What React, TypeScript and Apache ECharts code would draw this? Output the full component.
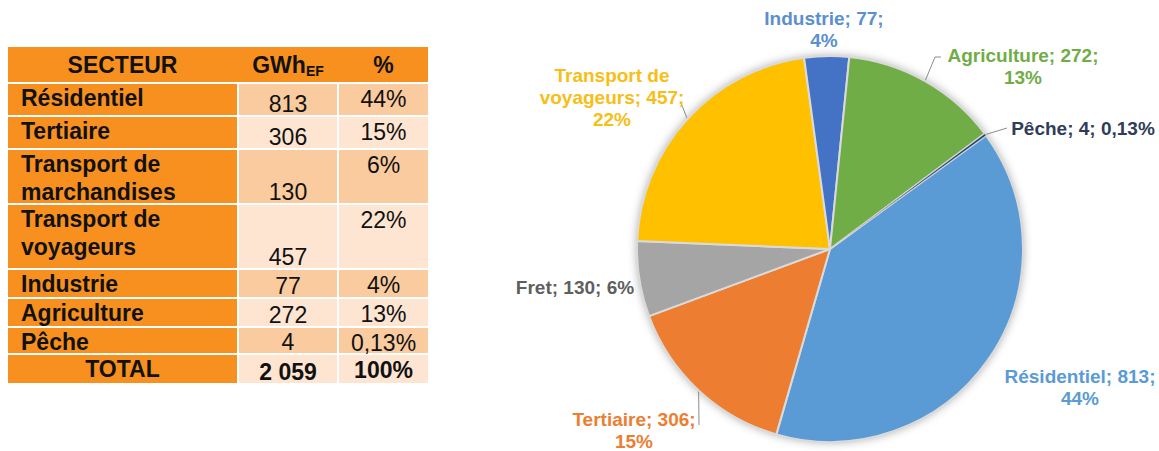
import React, { useEffect, useRef } from "react";
import * as echarts from "echarts";

// ---------- DATA ----------
const tableHeader = ["SECTEUR", "GWh", "%"];
const tableSectors = [
  "Résidentiel",
  "Tertiaire",
  "Transport de\nmarchandises",
  "Transport de\nvoyageurs",
  "Industrie",
  "Agriculture",
  "Pêche",
];
const tableGwh = [813, 306, 130, 457, 77, 272, 4];
const tablePct = ["44%", "15%", "6%", "22%", "4%", "13%", "0,13%"];
const totalLabel = "TOTAL";
const totalPct = "100%";

const sliceNames = ["Résidentiel", "Tertiaire", "Fret", "Transport de voyageurs", "Industrie", "Agriculture", "Pêche"];
const sliceValues = [813, 306, 130, 457, 77, 272, 4];
const slicePct = ["44%", "15%", "6%", "22%", "4%", "13%", "0,13%"];

// ---------- LAYOUT / STYLE ----------
const FONT = "'Liberation Sans', Arial, sans-serif";
const ORANGE = "#F7901E";
const DARK_CELL = "#FACB9E";
const LIGHT_CELL = "#FDE5D1";
const COL_X = [8, 239, 339];
const COL_W = [229, 98, 89];
const HEADER_TOP = 47;
const HEADER_H = 35;
const ROW_START = 84;
const ROW_H = [31, 31, 53, 63, 27, 27, 25, 28];
const GAP = 2;
const BOLD_SIZE = 23;
const NUM_SIZE = 23;

const SLICE_COLORS = ["#5B9BD5", "#ED7D31", "#A5A5A5", "#FFC000", "#4472C4", "#70AD47", "#264478"];
const LABEL_COLORS = ["#5B9BD5", "#ED7D31", "#5F5F5F", "#F7BE16", "#5B8FD0", "#70AD47", "#2F3D58"];
const PIE_CX = 830;
const PIE_CY = 249;
const PIE_R = 193;
const START_ANGLE = 36;
// label wrap style: 0 = single line, 1 = pct on new line, 2 = name wrapped + pct on new line
const LABEL_WRAP = [1, 1, 0, 2, 1, 1, 0];
const LABEL_POS = [
  [1080, 387],
  [634, 430],
  [575, 287],
  [612, 97],
  [824, 29],
  [1023, 66],
  [1083, 128],
];
const LABEL_LINE_TAIL: Record<number, number[][]> = {
  1: [[699, 425]],
  3: [[681, 103]],
  5: [[935, 57], [941, 57]],
  6: [[1007, 128]],
};

function formatThousands(n: number) {
  return String(n).replace(/\B(?=(\d{3})+(?!\d))/g, " ");
}

function buildTable() {
  const els: any[] = [];
  const tableW = COL_X[2] + COL_W[2] - COL_X[0];
  els.push({ type: "rect", shape: { x: COL_X[0], y: HEADER_TOP, width: tableW, height: HEADER_H }, style: { fill: ORANGE } });
  const hy = HEADER_TOP + HEADER_H / 2;
  els.push({
    type: "text",
    x: COL_X[0] + COL_W[0] / 2,
    y: hy,
    style: { text: tableHeader[0], font: `bold ${BOLD_SIZE}px ${FONT}`, fill: "#111", align: "center", verticalAlign: "middle" },
  });
  els.push({
    type: "text",
    x: COL_X[1] + COL_W[1] / 2,
    y: hy,
    style: {
      text: `{a|${tableHeader[1]}}{b|EF}`,
      align: "center",
      verticalAlign: "middle",
      rich: {
        a: { font: `bold ${BOLD_SIZE}px ${FONT}`, fill: "#111", lineHeight: 26 },
        b: { font: `bold 14px ${FONT}`, fill: "#111", lineHeight: 15, verticalAlign: "bottom" },
      },
    },
  });
  els.push({
    type: "text",
    x: COL_X[2] + COL_W[2] / 2,
    y: hy,
    style: { text: tableHeader[2], font: `bold ${BOLD_SIZE}px ${FONT}`, fill: "#111", align: "center", verticalAlign: "middle" },
  });

  const total = tableGwh.reduce((a, b) => a + b, 0);
  const rows = tableSectors.map((s, i) => ({ s, g: String(tableGwh[i]), p: tablePct[i], bold: false }));
  rows.push({ s: totalLabel, g: formatThousands(total), p: totalPct, bold: true });

  let y = ROW_START;
  rows.forEach((r, i) => {
    const h = ROW_H[i];
    const cell = i % 2 === 0 ? DARK_CELL : LIGHT_CELL;
    els.push({ type: "rect", shape: { x: COL_X[0], y, width: COL_W[0], height: h }, style: { fill: ORANGE } });
    els.push({ type: "rect", shape: { x: COL_X[1], y, width: COL_W[1], height: h }, style: { fill: cell } });
    els.push({ type: "rect", shape: { x: COL_X[2], y, width: COL_W[2], height: h }, style: { fill: cell } });
    if (r.bold) {
      els.push({
        type: "text",
        x: COL_X[0] + COL_W[0] / 2,
        y: y + 14,
        style: { text: r.s, font: `bold ${BOLD_SIZE}px ${FONT}`, fill: "#111", align: "center", verticalAlign: "middle" },
      });
    } else {
      els.push({
        type: "text",
        x: 21,
        y: y,
        style: { text: r.s, font: `bold ${BOLD_SIZE}px ${FONT}`, fill: "#111", align: "left", verticalAlign: "top", lineHeight: 28 },
      });
    }
    els.push({
      type: "text",
      x: COL_X[1] + COL_W[1] / 2,
      y: y + h - 11.5,
      style: { text: r.g, font: `${r.bold ? "bold " : ""}${NUM_SIZE}px ${FONT}`, fill: "#111", align: "center", verticalAlign: "middle" },
    });
    els.push({
      type: "text",
      x: COL_X[2] + COL_W[2] / 2,
      y: y + 15,
      style: { text: r.p, font: `${r.bold ? "bold " : ""}${NUM_SIZE}px ${FONT}`, fill: "#111", align: "center", verticalAlign: "middle" },
    });
    y += h + GAP;
  });
  return els;
}

function sliceAnchor(i: number) {
  const total = sliceValues.reduce((a, b) => a + b, 0);
  let cum = 0;
  for (let k = 0; k < i; k++) cum += sliceValues[k];
  const mid = START_ANGLE - ((cum + sliceValues[i] / 2) / total) * 360;
  const rad = (mid * Math.PI) / 180;
  return [PIE_CX + PIE_R * Math.cos(rad), PIE_CY - PIE_R * Math.sin(rad)];
}

function labelText(i: number) {
  const name = sliceNames[i];
  const v = sliceValues[i];
  const p = slicePct[i];
  if (LABEL_WRAP[i] === 0) return `${name}; ${v}; ${p}`;
  if (LABEL_WRAP[i] === 1) return `${name}; ${v};\n${p}`;
  const parts = name.split(" ");
  const first = parts.slice(0, 2).join(" ");
  const rest = parts.slice(2).join(" ");
  return `${first}\n${rest}; ${v};\n${p}`;
}

export default function App() {
  const ref = useRef<HTMLDivElement>(null);
  useEffect(() => {
    if (!ref.current) return;
    const chart = echarts.init(ref.current, undefined, { renderer: "svg" });
    const total = sliceValues.reduce((a, b) => a + b, 0);
    const option: any = {
      animation: false,
      backgroundColor: "#ffffff",
      graphic: buildTable(),
      series: [
        {
          type: "pie",
          silent: true,
          center: [PIE_CX, PIE_CY],
          radius: PIE_R,
          label: { show: false },
          labelLine: { show: false },
          itemStyle: { color: "#ffffff", shadowBlur: 10, shadowColor: "rgba(0,0,0,0.35)" },
          data: [{ value: total }],
          z: 1,
        },
        {
          type: "pie",
          center: [PIE_CX, PIE_CY],
          radius: PIE_R,
          startAngle: START_ANGLE,
          clockwise: true,
          avoidLabelOverlap: false,
          z: 2,
          itemStyle: { borderColor: "#DADADA", borderWidth: 2 },
          label: {
            show: true,
            position: "outside",
            fontFamily: FONT,
            fontSize: 19,
            fontWeight: "bold",
            lineHeight: 22,
            align: "center",
            formatter: (p: any) => labelText(p.dataIndex),
          },
          labelLine: { show: true, length: 10, length2: 5, lineStyle: { color: "#8C8C8C", width: 1 } },
          labelLayout: (params: any) => {
            const i = params.dataIndex;
            const [x, y] = LABEL_POS[i];
            const res: any = { x, y, align: "center", verticalAlign: "middle" };
            if (LABEL_LINE_TAIL[i]) {
              const pts = [sliceAnchor(i), ...LABEL_LINE_TAIL[i]];
              while (pts.length < 3) pts.push(pts[pts.length - 1]);
              res.labelLinePoints = pts;
            }
            return res;
          },
          data: sliceNames.map((n, i) => ({
            name: n,
            value: sliceValues[i],
            itemStyle: { color: SLICE_COLORS[i], ...(i === 6 ? { borderWidth: 0.6 } : {}) },
            label: { color: LABEL_COLORS[i] },
            labelLine: { show: !!LABEL_LINE_TAIL[i] },
          })),
        },
      ],
    };
    chart.setOption(option);
    return () => chart.dispose();
  }, []);
  return (
    <div
      ref={ref}
      style={{ position: "fixed", left: 0, top: 0, width: 1159, height: 451, background: "#fff" }}
    />
  );
}
